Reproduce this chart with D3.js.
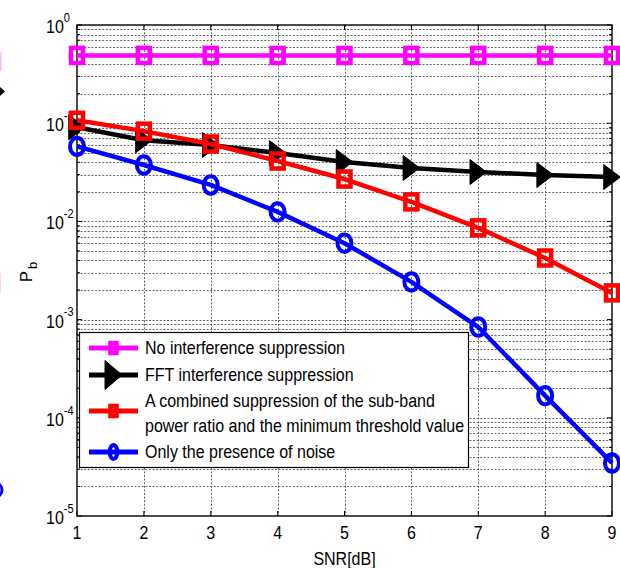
<!DOCTYPE html>
<html>
<head>
<meta charset="utf-8">
<script src="https://cdn.jsdelivr.net/npm/d3@7"></script>
<style>
  body { margin: 0; background: #fff; }
  svg { display: block; font-family: "Liberation Sans", Arial, sans-serif; }
</style>
</head>
<body>
<div id="chart"></div>
<script>
// values
const snr = [1, 2, 3, 4, 5, 6, 7, 8, 9];
const noSuppression = [0.49, 0.49, 0.49, 0.49, 0.49, 0.49, 0.49, 0.49, 0.49];
const fftSuppression = [0.091, 0.067, 0.060, 0.0497, 0.0403, 0.035, 0.0318, 0.0297, 0.0283];
const combinedSuppression = [0.107, 0.083, 0.0614, 0.0412, 0.027, 0.0158, 0.0086, 0.00424, 0.00187];
const noiseOnly = [0.058, 0.0375, 0.0235, 0.0125, 0.006, 0.00242, 0.00084, 0.000168, 0.0000347];
const xTicks = [1, 2, 3, 4, 5, 6, 7, 8, 9];
const yExponents = [-5, -4, -3, -2, -1, 0];
const seriesNames = [
  ['No interference suppression'],
  ['FFT interference suppression'],
  ['A combined suppression of the sub-band', 'power ratio and the minimum threshold value'],
  ['Only the presence of noise']
];

const series = [
  { values: noSuppression, color: '#ff00ff', marker: 'square' },
  { values: fftSuppression, color: '#000000', marker: 'triangle' },
  { values: combinedSuppression, color: '#ff0000', marker: 'square' },
  { values: noiseOnly, color: '#0000ff', marker: 'circle' }
];

let svgWidth = 620, svgHeight = 568,
  plotLeft = 77, plotRight = 612, plotTop = 25, plotBottom = 516,
  stretch = 1.13, // text in the picture is a bit taller than wide
  lineWidth = 4.5;

const x = d3.scaleLinear().domain([1, 9]).range([plotLeft, plotRight]);
const y = d3.scaleLog().domain([1e-5, 1]).range([plotBottom, plotTop]);

const svg = d3.select('#chart')
  .append('svg')
  .attr('width', svgWidth)
  .attr('height', svgHeight);

// stray bits of a cropped legend on the left edge
const stray = svg.append('g');
stray.append('rect').attr('x', 0).attr('y', 52).attr('width', 1.5).attr('height', 19).attr('fill', '#ffb8ff');
stray.append('path').attr('d', 'M0,87 L5,91.5 L0,96 Z').attr('fill', '#000');
stray.append('rect').attr('x', 0).attr('y', 273).attr('width', 1).attr('height', 20).attr('fill', '#ffd6d6');
stray.append('ellipse').attr('cx', -5).attr('cy', 490).attr('rx', 7).attr('ry', 7)
  .attr('fill', 'none').attr('stroke', '#0000ff').attr('stroke-width', 3);

function label(g, tx, ty, str, size, anchor) {
  return g.append('text')
    .attr('transform', `translate(${tx},${ty}) scale(1,${stretch})`)
    .attr('font-size', size)
    .attr('text-anchor', anchor)
    .attr('fill', '#000')
    .text(str);
}

// grid lines
const decades = yExponents.map(e => Math.pow(10, e));
const minorValues = [];
decades.slice(0, -1).forEach(d => { for (let k = 2; k <= 9; k++) minorValues.push(d * k); });
const hGrid = minorValues.concat(decades.slice(1, -1));

const grid = svg.append('g')
  .attr('stroke', '#555')
  .attr('stroke-width', 0.9)
  .attr('stroke-dasharray', '2,1.6');

grid.selectAll('.hgrid')
  .data(hGrid)
  .enter()
  .append('line')
  .attr('x1', plotLeft).attr('x2', plotRight)
  .attr('y1', d => Math.round(y(d)) + 0.5).attr('y2', d => Math.round(y(d)) + 0.5);

grid.selectAll('.vgrid')
  .data(xTicks.slice(1, -1))
  .enter()
  .append('line')
  .attr('x1', d => Math.round(x(d)) + 0.5).attr('x2', d => Math.round(x(d)) + 0.5)
  .attr('y1', plotTop).attr('y2', plotBottom);

// frame and ticks
const axes = svg.append('g').attr('stroke', '#000');
axes.append('rect')
  .attr('x', plotLeft).attr('y', plotTop)
  .attr('width', plotRight - plotLeft).attr('height', plotBottom - plotTop)
  .attr('fill', 'none').attr('stroke-width', 1.4);

axes.selectAll('.xtick')
  .data(xTicks)
  .enter()
  .append('path')
  .attr('d', d => `M${x(d)},${plotBottom}v-5M${x(d)},${plotTop}v5`)
  .attr('stroke-width', 1);

axes.selectAll('.ytick')
  .data(decades)
  .enter()
  .append('path')
  .attr('d', d => `M${plotLeft},${y(d)}h5M${plotRight},${y(d)}h-5`)
  .attr('stroke-width', 1);

axes.selectAll('.yminor')
  .data(minorValues)
  .enter()
  .append('path')
  .attr('d', d => `M${plotLeft},${y(d)}h3M${plotRight},${y(d)}h-3`)
  .attr('stroke-width', 1);

// tick labels
const labels = svg.append('g');
xTicks.forEach(t => label(labels, x(t), 539, String(t), 16, 'middle'));

yExponents.forEach(e => {
  const t = labels.append('text')
    .attr('transform', `translate(46,${y(Math.pow(10, e)) + 8}) scale(1,${stretch})`)
    .attr('font-size', 16)
    .text('10');
  t.append('tspan')
    .attr('dy', -10)
    .attr('font-size', 11)
    .text(String(e));
});

// axis titles
label(labels, (plotLeft + plotRight) / 2, 565, 'SNR[dB]', 16, 'middle');
const yTitle = labels.append('text')
  .attr('transform', 'translate(32,272) rotate(-90)')
  .attr('font-size', 17)
  .attr('text-anchor', 'middle')
  .text('P');
yTitle.append('tspan').attr('dx', 2).attr('dy', 5).attr('font-size', 13).text('b');

// markers
function drawMarker(g, type, cx, cy, color, w, h) {
  if (type === 'square') {
    g.append('rect')
      .attr('x', cx - (w - lineWidth) / 2).attr('y', cy - (h - lineWidth) / 2)
      .attr('width', w - lineWidth).attr('height', h - lineWidth)
      .attr('fill', 'none').attr('stroke', color).attr('stroke-width', lineWidth);
  } else if (type === 'circle') {
    g.append('ellipse')
      .attr('cx', cx).attr('cy', cy)
      .attr('rx', (w - 4) / 2).attr('ry', (h - 4) / 2)
      .attr('fill', 'none').attr('stroke', color).attr('stroke-width', 4);
  } else {
    g.append('path')
      .attr('d', `M${cx - w / 2},${cy - h / 2}L${cx + w / 2},${cy}L${cx - w / 2},${cy + h / 2}Z`)
      .attr('fill', color).attr('stroke', color).attr('stroke-width', 1);
  }
}

const markerSize = { square: [16.5, 19.5], circle: [18, 21.5], triangle: [16.5, 25] };

const line = d3.line()
  .x((d, i) => x(snr[i]))
  .y(d => y(d));

series.forEach(s => {
  const g = svg.append('g');
  g.append('path')
    .attr('d', line(s.values))
    .attr('fill', 'none')
    .attr('stroke', s.color)
    .attr('stroke-width', lineWidth)
    .attr('stroke-linejoin', 'round');
  s.values.forEach((v, i) => {
    drawMarker(g, s.marker, x(snr[i]), y(v), s.color, markerSize[s.marker][0], markerSize[s.marker][1]);
  });
});

// legend
const legendSize = { square: [10.5, 14.5], circle: [11.5, 18], triangle: [17, 29] };
const legendRows = [348, 375, 411, 452];
const legend = svg.append('g');
legend.append('rect')
  .attr('x', 79.5).attr('y', 332.5)
  .attr('width', 389).attr('height', 135)
  .attr('fill', '#fff').attr('stroke', '#000').attr('stroke-width', 1.2);

series.forEach((s, i) => {
  const ly = legendRows[i];
  legend.append('line')
    .attr('x1', 89).attr('x2', 138)
    .attr('y1', ly).attr('y2', ly)
    .attr('stroke', s.color).attr('stroke-width', lineWidth + 0.5);
  drawMarker(legend, s.marker, 113.5, ly, s.color, legendSize[s.marker][0], legendSize[s.marker][1]);
  const names = seriesNames[i];
  names.forEach((n, j) => {
    const base = names.length === 1 ? ly + 6 : ly - 4 + 25 * j;
    label(legend, 145, base, n, 16, 'start');
  });
});
</script>
</body>
</html>
